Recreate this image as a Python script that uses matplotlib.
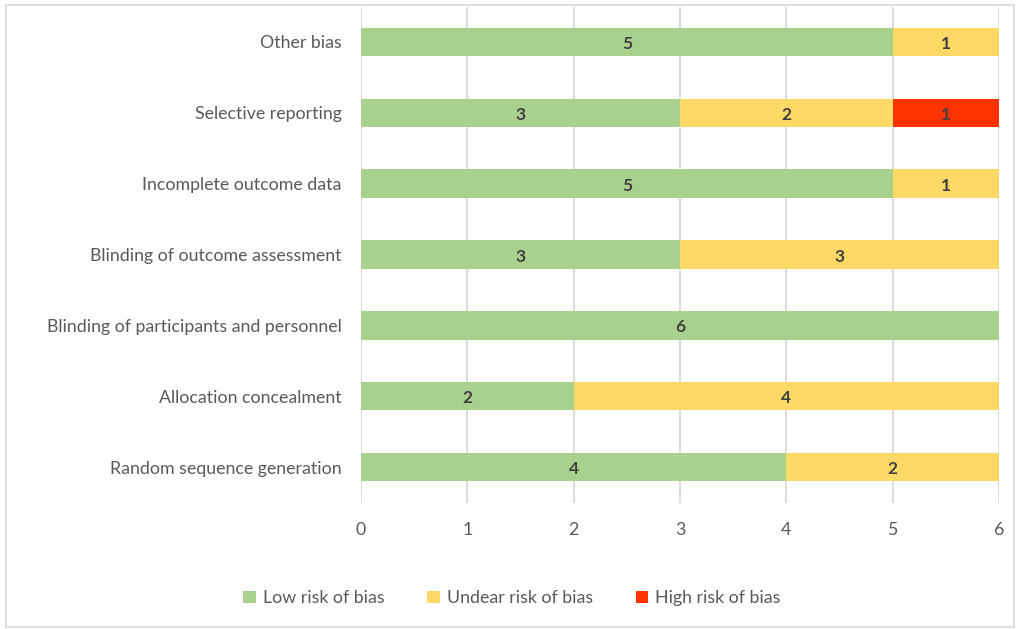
import numpy as np
import matplotlib.pyplot as plt
from matplotlib.patches import Rectangle

domains = ['Random sequence generation', 'Allocation concealment',
           'Blinding of participants and personnel', 'Blinding of outcome assessment',
           'Incomplete outcome data', 'Selective reporting', 'Other bias']
low = [4, 2, 6, 3, 5, 3, 5]
unclear = [2, 4, 0, 3, 1, 2, 1]
high = [0, 0, 0, 0, 0, 1, 0]
series_names = ['Low risk of bias', 'Undear risk of bias', 'High risk of bias']
colors = ['#A9D18E', '#FFD966', '#FF3300']

plt.rcParams['font.family'] = ['Lato', 'DejaVu Sans']

fig = plt.figure(figsize=(10.18, 6.29), dpi=100)
ax = fig.add_axes([361 / 1018, 1 - 502.5 / 629, 638 / 1018, 496 / 629])

y = np.arange(len(domains))
left = np.zeros(len(domains))
for vals, name, col in zip([low, unclear, high], series_names, colors):
    vals = np.array(vals, dtype=float)
    ax.barh(y, vals, left=left, height=0.4, color=col, label=name, zorder=3)
    for yi, (l, v) in enumerate(zip(left, vals)):
        if v > 0:
            ax.text(l + v / 2, yi - 0.03, f'{int(v)}', ha='center', va='center',
                    fontsize=12.5, fontweight='bold', color='#404040', zorder=4)
    left += vals

ax.set_xlim(0, 6)
ax.set_ylim(-0.5, len(domains) - 0.5)
ax.set_xticks(range(7))
ax.set_yticks(y)
ax.set_yticklabels(domains)
ax.tick_params(axis='both', length=0, labelsize=12.8, colors='#595959')
ax.tick_params(axis='x', pad=14)
ax.tick_params(axis='y', pad=14)
ax.grid(axis='x', color='#D9D9D9', linewidth=1.3, zorder=0)
for s in ax.spines.values():
    s.set_visible(False)

ax.legend(loc='center', bbox_to_anchor=(512 / 1018, 1 - 598 / 629),
          bbox_transform=fig.transFigure, ncol=3, frameon=False,
          fontsize=12.8, labelcolor='#595959', handlelength=0.7, handleheight=0.7,
          handletextpad=0.4, columnspacing=2.4)

fig.patches.append(Rectangle((6 / 1018, 2 / 629), 1008 / 1018, 622 / 629,
                             transform=fig.transFigure, fill=False,
                             edgecolor='#D9D9D9', linewidth=1.2))

fig.savefig('out.png', dpi=100)
